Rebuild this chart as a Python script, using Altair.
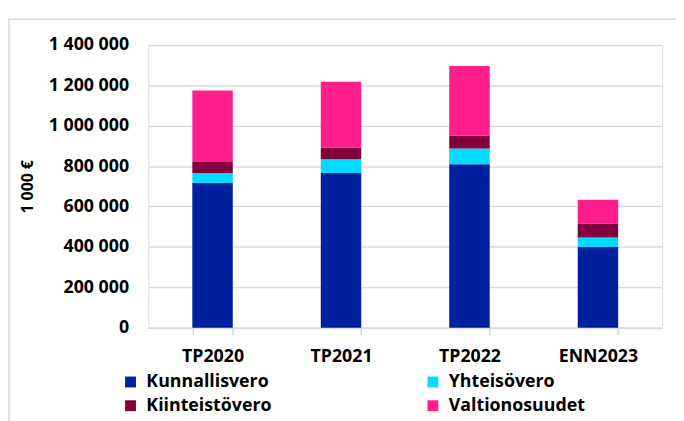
import altair as alt
import pandas as pd

categories = ["TP2020", "TP2021", "TP2022", "ENN2023"]
series = ["Kunnallisvero", "Yhteisövero", "Kiinteistövero", "Valtionosuudet"]
colors = ["#00209F", "#00DCFF", "#82003C", "#FF1E8C"]
kunnallisvero = [717000, 766000, 810000, 400000]
yhteisovero = [49000, 68000, 77000, 46000]
kiinteistovero = [54000, 59000, 65000, 70000]
valtionosuudet = [355000, 325000, 344000, 117000]
y_ticks = [0, 200000, 400000, 600000, 800000, 1000000, 1200000, 1400000]

values_by_series = [kunnallisvero, yhteisovero, kiinteistovero, valtionosuudet]
rows = []
for si, (name, vals) in enumerate(zip(series, values_by_series)):
    for ci, cat in enumerate(categories):
        rows.append({"cat": cat, "series": name, "value": vals[ci], "ord": si})
df = pd.DataFrame(rows)

# legend is filled column by column: left column first, then right column
legend_order = [0, 2, 1, 3]
legend_domain = [series[i] for i in legend_order]
legend_range = [colors[i] for i in legend_order]

FONT = "Open Sans"
FS = 18
W, H = 520, 286

frame = alt.Chart(alt.Data(values=[{"a": 1}])).mark_rect(
    filled=False, stroke="#d9d9d9", strokeWidth=1.5
).encode(
    x=alt.value(-141), x2=alt.value(W + 60),
    y=alt.value(-26), y2=alt.value(H + 120),
)

bars = alt.Chart(df).mark_bar().encode(
    x=alt.X("cat:N", sort=categories, title=None,
            scale=alt.Scale(paddingInner=0.685, paddingOuter=0.3425),
            axis=alt.Axis(labelAngle=0, labelFont=FONT, labelFontSize=FS,
                          labelFontWeight="bold", labelColor="#000000",
                          tickBand="extent", ticks=True, tickSize=7,
                          tickColor="#d9d9d9", tickWidth=1.5,
                          domainColor="#d9d9d9", domainWidth=1.5,
                          labelPadding=13, grid=False)),
    y=alt.Y("value:Q", stack="zero",
            scale=alt.Scale(domain=[0, 1400000], nice=False),
            axis=alt.Axis(values=y_ticks, title="1 000 €",
                          labelExpr="replace(replace(format(datum.value, ','), ',', ' '), ',', ' ')",
                          labelFont=FONT, labelFontSize=FS, labelFontWeight="bold",
                          labelColor="#000000", labelPadding=20,
                          ticks=False, domain=False,
                          grid=True, gridColor="#d9d9d9", gridWidth=1.5,
                          titleFont=FONT, titleFontSize=16, titleFontWeight="bold",
                          titleColor="#000000", titleAngle=-90,
                          titleX=-122, titleY=H / 2,
                          titleAlign="center", titleBaseline="middle")),
    color=alt.Color("series:N", scale=alt.Scale(domain=legend_domain, range=legend_range),
                    legend=alt.Legend(title=None, orient="none", legendX=-27,
                                      legendY=332, columns=2, columnPadding=154,
                                      rowPadding=6, symbolType="square",
                                      symbolSize=121, symbolStrokeWidth=0,
                                      labelFont=FONT, labelFontSize=FS,
                                      labelFontWeight="bold", labelColor="#000000",
                                      labelOffset=7)),
    order=alt.Order("ord:Q", sort="ascending"),
)

chart = alt.layer(frame, bars).properties(
    width=W, height=H,
    autosize=alt.AutoSizeParams(type="none"),
    padding={"left": 142, "top": 35, "right": 14, "bottom": 92},
).configure_view(stroke=None).configure(background="#ffffff")

chart.save("out.html", embed_options={"renderer": "svg", "actions": False})
